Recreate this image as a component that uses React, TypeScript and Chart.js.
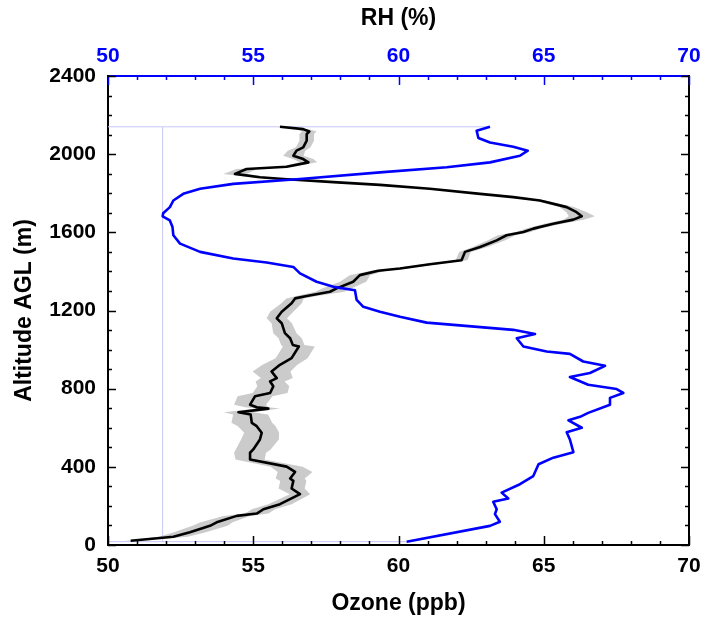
import React, { useEffect, useRef } from 'react';
import { Chart, registerables } from 'chart.js';

Chart.register(...registerables);

// Ozone profile (ppb) vs altitude AGL (m), with its spread
const ozoneAlt = [22, 42, 65, 98, 116, 149, 161, 183, 209, 260, 289, 328, 340, 374, 401, 438, 472, 489, 540, 574, 608, 625, 668, 679, 698, 705, 718, 761, 778, 812, 837, 854, 888, 922, 956, 1016, 1024, 1058, 1084, 1135, 1160, 1194, 1237, 1262, 1274, 1296, 1313, 1347, 1381, 1403, 1415, 1437, 1457, 1500, 1525, 1559, 1585, 1602, 1619, 1644, 1665, 1682, 1703, 1729, 1763, 1780, 1797, 1823, 1843, 1857, 1873, 1882, 1899, 1924, 1936, 1958, 1975, 1992, 2018, 2035, 2069, 2103, 2116, 2128, 2140];
const ozoneVal = [50.78, 52.25, 52.82, 53.51, 53.74, 54.43, 55.12, 55.35, 55.92, 56.61, 56.32, 56.38, 56.27, 56.44, 56.15, 54.89, 54.89, 55.0, 55.23, 55.29, 55.12, 54.95, 54.91, 54.49, 55.52, 55.12, 54.89, 55.06, 55.58, 55.69, 55.58, 55.81, 55.63, 55.92, 56.32, 56.57, 56.36, 56.27, 56.09, 55.98, 55.81, 55.98, 56.32, 56.44, 56.84, 57.64, 57.87, 58.44, 58.67, 59.3, 60.05, 61.08, 62.17, 62.29, 62.81, 63.38, 63.72, 64.3, 64.64, 65.33, 66.02, 66.31, 66.13, 65.79, 64.87, 63.95, 62.81, 61.08, 59.36, 57.76, 56.04, 55.23, 54.37, 54.77, 56.15, 56.9, 56.72, 56.38, 56.49, 56.72, 56.84, 56.84, 56.93, 56.72, 55.92];
const ozoneSd = [0.2, 0.5, 0.55, 0.6, 0.55, 0.45, 0.4, 0.4, 0.4, 0.35, 0.45, 0.45, 0.5, 0.6, 0.55, 0.5, 0.55, 0.6, 0.65, 0.6, 0.65, 0.7, 0.6, 0.5, 0.4, 0.4, 0.55, 0.6, 0.6, 0.55, 0.5, 0.55, 0.65, 0.6, 0.55, 0.55, 0.4, 0.4, 0.4, 0.35, 0.35, 0.4, 0.35, 0.3, 0.35, 0.5, 0.5, 0.45, 0.35, 0.25, 0.25, 0.25, 0.2, 0.2, 0.25, 0.3, 0.3, 0.25, 0.25, 0.3, 0.35, 0.45, 0.35, 0.25, 0.2, 0.15, 0.1, 0.1, 0.1, 0.15, 0.2, 0.3, 0.4, 0.35, 0.25, 0.3, 0.35, 0.35, 0.3, 0.25, 0.25, 0.25, 0.25, 0.2, 0.05];

// Relative humidity (%) vs altitude AGL (m)
const rhAlt = [17, 98, 119, 158, 183, 221, 238, 268, 311, 353, 413, 447, 475, 540, 577, 600, 638, 656, 676, 718, 753, 778, 798, 820, 860, 880, 917, 939, 978, 990, 1016, 1058, 1080, 1101, 1138, 1168, 1194, 1219, 1254, 1304, 1321, 1347, 1390, 1423, 1446, 1466, 1500, 1542, 1585, 1627, 1661, 1682, 1698, 1729, 1763, 1797, 1823, 1848, 1873, 1907, 1933, 1958, 1992, 2018, 2038, 2060, 2083, 2120, 2140];
const rhVal = [60.28, 63.15, 63.49, 63.32, 63.38, 63.26, 63.78, 63.55, 64.18, 64.64, 64.82, 65.33, 66.02, 65.9, 65.79, 66.31, 65.85, 66.25, 66.53, 67.28, 67.28, 67.74, 67.51, 66.53, 65.9, 66.59, 67.11, 66.36, 65.9, 65.1, 64.3, 64.07, 64.7, 63.95, 60.97, 60.05, 59.36, 58.79, 58.56, 58.5, 57.76, 57.18, 56.61, 56.38, 55.46, 54.31, 53.17, 52.48, 52.25, 52.22, 52.13, 51.88, 51.9, 52.13, 52.25, 52.59, 53.17, 54.31, 56.61, 59.36, 61.66, 63.15, 64.18, 64.45, 63.95, 63.15, 62.75, 62.69, 63.15];

const xTicks = [50, 55, 60, 65, 70];
const yTicks = [0, 400, 800, 1200, 1600, 2000, 2400];
const xMinorStep = 1;
const yMinorStep = 100;

const FONT = 'Liberation Sans, Arial, sans-serif';
const BLUE = '#0000ff';
const TICK_FONT = { family: FONT, size: 21, weight: 'bold' };
const TITLE_FONT = { family: FONT, size: 23, weight: 'bold' };

const innerTicks = {
  id: 'innerTicks',
  afterDraw(chart: any) {
    const { ctx, chartArea: a, scales } = chart;
    ctx.save();
    ctx.lineWidth = 1.5;
    const xs = scales.x;
    const ys = scales.y;
    const x0 = xTicks[0], x1 = xTicks[xTicks.length - 1];
    const y0 = yTicks[0], y1 = yTicks[yTicks.length - 1];
    for (let v = x0; v <= x1 + 1e-9; v += xMinorStep) {
      const px = Math.round(xs.getPixelForValue(v)) + 0.5;
      const major = xTicks.includes(v);
      const len = major ? 9 : 4;
      ctx.strokeStyle = '#000';
      ctx.beginPath();
      ctx.moveTo(px, a.bottom);
      ctx.lineTo(px, a.bottom - len);
      ctx.stroke();
      ctx.strokeStyle = BLUE;
      ctx.beginPath();
      ctx.moveTo(px, a.top);
      ctx.lineTo(px, a.top + len);
      ctx.stroke();
    }
    ctx.strokeStyle = '#000';
    for (let v = y0; v <= y1 + 1e-9; v += yMinorStep) {
      const py = Math.round(ys.getPixelForValue(v)) + 0.5;
      const major = yTicks.includes(v);
      const len = major ? 8 : 4;
      ctx.beginPath();
      ctx.moveTo(a.left, py);
      ctx.lineTo(a.left + len, py);
      ctx.moveTo(a.right, py);
      ctx.lineTo(a.right - len, py);
      ctx.stroke();
    }
    ctx.restore();
  },
};

function fixBox(size: number, horizontal: boolean) {
  return (s: any) => {
    if (horizontal) s.height = size;
    else s.width = size;
    s.paddingLeft = 0;
    s.paddingRight = 0;
    s.paddingTop = 0;
    s.paddingBottom = 0;
  };
}

const plainLabel = (v: any) => String(v);

export default function App() {
  const ref = useRef<HTMLCanvasElement>(null);
  useEffect(() => {
    if (!ref.current) return;
    const ozone = ozoneAlt.map((a, i) => ({ x: ozoneVal[i], y: a }));
    const band = [
      ...ozoneAlt.map((a, i) => ({ x: ozoneVal[i] + ozoneSd[i], y: a })),
      ...ozoneAlt.map((a, i) => ({ x: ozoneVal[i] - ozoneSd[i], y: a })).reverse(),
    ];
    const rh = rhAlt.map((a, i) => ({ x: rhVal[i], y: a }));
    const rhMin = Math.min(...rhVal);
    const topAlt = rhAlt[rhAlt.length - 1];
    const botAlt = rhAlt[0];
    const frameColor = '#c6c6f4';
    const frame = (pts: any[]) => ({
      data: pts,
      xAxisID: 'x2',
      borderColor: frameColor,
      borderWidth: 1,
      pointRadius: 0,
      fill: false,
      order: 5,
    });

    const chart = new Chart(ref.current, {
      type: 'line',
      data: {
        datasets: [
          {
            data: rh,
            xAxisID: 'x2',
            borderColor: BLUE,
            borderWidth: 2.6,
            borderJoinStyle: 'round',
            pointRadius: 0,
            fill: false,
            order: 0,
          } as any,
          {
            data: ozone,
            borderColor: '#000',
            borderWidth: 2.6,
            borderJoinStyle: 'round',
            pointRadius: 0,
            fill: false,
            order: 1,
          },
          {
            data: band,
            borderWidth: 0,
            borderColor: 'rgba(0,0,0,0)',
            backgroundColor: '#cbcbcb',
            pointRadius: 0,
            fill: 'shape',
            order: 3,
          },
          frame([{ x: rhMin, y: botAlt }, { x: rhMin, y: topAlt }]),
          frame([{ x: 50, y: topAlt }, { x: rhVal[rhVal.length - 1], y: topAlt }]),
          frame([{ x: 50, y: botAlt }, { x: rhVal[0], y: botAlt }]),
        ],
      },
      options: {
        animation: false,
        responsive: false,
        devicePixelRatio: 1,
        layout: { padding: 0 },
        plugins: { legend: { display: false }, tooltip: { enabled: false } },
        elements: { point: { radius: 0 }, line: { tension: 0 } },
        scales: {
          x: {
            type: 'linear',
            position: 'bottom',
            min: 50,
            max: 70,
            afterBuildTicks: (s: any) => { s.ticks = xTicks.map((v) => ({ value: v })); },
            ticks: { color: '#000', font: TICK_FONT, padding: 9, maxRotation: 0, autoSkip: false, callback: plainLabel },
            grid: { display: false, drawTicks: false },
            border: { display: true, color: '#000', width: 2 },
            title: { display: true, text: 'Ozone (ppb)', color: '#000', font: TITLE_FONT, padding: { top: 0, bottom: 3 } },
            afterFit: fixBox(75, true),
          },
          x2: {
            type: 'linear',
            position: 'top',
            min: 50,
            max: 70,
            afterBuildTicks: (s: any) => { s.ticks = xTicks.map((v) => ({ value: v })); },
            ticks: { color: BLUE, font: TICK_FONT, padding: 7, maxRotation: 0, autoSkip: false, callback: plainLabel },
            grid: { display: false, drawTicks: false },
            border: { display: true, color: BLUE, width: 2 },
            title: { display: true, text: 'RH (%)', color: '#000', font: TITLE_FONT, padding: { top: 5, bottom: 0 } },
            afterFit: fixBox(76, true),
          },
          y: {
            type: 'linear',
            position: 'left',
            min: 0,
            max: 2400,
            afterBuildTicks: (s: any) => { s.ticks = yTicks.map((v) => ({ value: v })); },
            ticks: { color: '#000', font: TICK_FONT, padding: 12, autoSkip: false, callback: plainLabel },
            grid: { display: false, drawTicks: false },
            border: { display: true, color: '#000', width: 2 },
            title: { display: true, text: 'Altitude AGL (m)', color: '#000', font: TITLE_FONT, padding: { top: 11, bottom: 0 } },
            afterFit: fixBox(108, false),
          },
          y2: {
            type: 'linear',
            position: 'right',
            min: 0,
            max: 2400,
            ticks: { display: false },
            grid: { display: false, drawTicks: false },
            border: { display: true, color: '#000', width: 2 },
            afterFit: fixBox(13, false),
          },
        },
      } as any,
      plugins: [innerTicks],
    });
    return () => chart.destroy();
  }, []);
  return (
    <canvas
      ref={ref}
      width={702}
      height={620}
      style={{ display: 'block', position: 'absolute', left: 0, top: 0 }}
    />
  );
}
